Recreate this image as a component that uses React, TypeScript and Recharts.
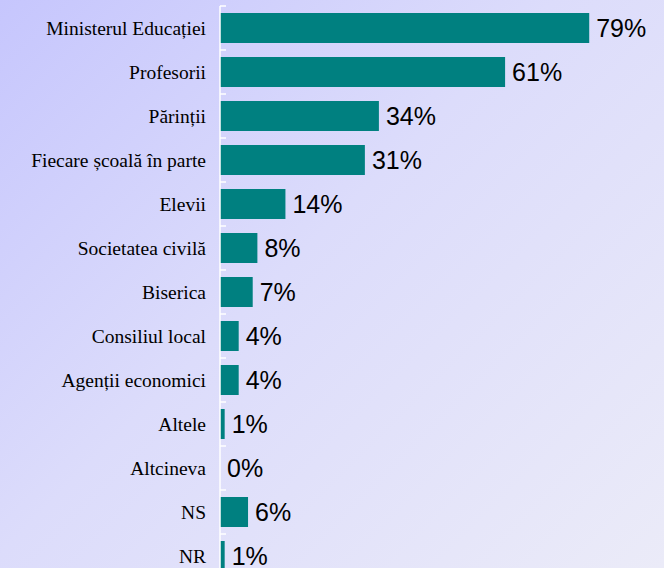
import { BarChart, Bar, XAxis, YAxis, LabelList } from 'recharts';

const categories = [
  'Ministerul Educației',
  'Profesorii',
  'Părinții',
  'Fiecare școală în parte',
  'Elevii',
  'Societatea civilă',
  'Biserica',
  'Consiliul local',
  'Agenții economici',
  'Altele',
  'Altcineva',
  'NS',
  'NR',
];
const values = [79, 61, 34, 31, 14, 8, 7, 4, 4, 1, 0, 6, 1];

const data = categories.map((name, i) => ({ name, value: values[i] }));

const CHART_H = 578;
const TOP = 6;
const BAND = (CHART_H - TOP) / categories.length;

// label at band centre, white tick at band top edge
const CategoryTick = (props: any) => {
  const { x, y, payload } = props;
  const top = y - BAND / 2;
  return (
    <g>
      <line x1={x + 8} x2={x + 14} y1={top} y2={top} stroke="#ffffff" strokeWidth={1.5} />
      <text
        x={x - 6}
        y={y}
        textAnchor="end"
        dominantBaseline="central"
        fontFamily="'Liberation Serif', serif"
        fontSize={19.5}
        fill="#000"
      >
        {payload.value}
      </text>
    </g>
  );
};

export default function App() {
  return (
    <div
      style={{
        position: 'absolute',
        left: 0,
        top: 0,
        width: 664,
        height: 568,
        overflow: 'hidden',
        background: 'linear-gradient(135deg, #c6c6fd 0%, #dcdcfb 45%, #ebebf8 100%)',
      }}
    >
      <BarChart
        width={664}
        height={CHART_H}
        data={data}
        layout="vertical"
        margin={{ top: TOP, right: 0, bottom: 0, left: 0 }}
      >
        <XAxis type="number" domain={[0, 95]} hide />
        <YAxis
          type="category"
          dataKey="name"
          width={220}
          axisLine={{ stroke: '#ffffff', strokeWidth: 1.5 }}
          tickLine={false}
          tick={<CategoryTick />}
          interval={0}
        />
        <Bar dataKey="value" fill="#008080" barSize={30} minPointSize={0.01} isAnimationActive={false}>
          <LabelList
            dataKey="value"
            position="right"
            offset={7}
            formatter={(v: any) => `${v}%`}
            style={{ fontFamily: "'Liberation Sans', Arial, sans-serif", fontSize: 25, fill: '#000' }}
          />
        </Bar>
      </BarChart>
    </div>
  );
}
